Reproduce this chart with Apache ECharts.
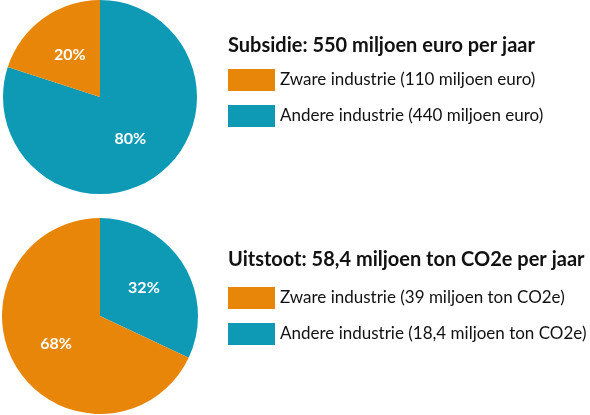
<!DOCTYPE html>
<html><head><meta charset="utf-8">
<script src="https://cdn.jsdelivr.net/npm/echarts@6/dist/echarts.min.js"></script>
<style>html,body{margin:0;padding:0;background:#fff}#c{width:590px;height:415px}</style>
</head><body><div id="c"></div>
<script>
const titles = ['Subsidie: 550 miljoen euro per jaar', 'Uitstoot: 58,4 miljoen ton CO2e per jaar'];
const subsidyNames = ['Andere industrie (440 miljoen euro)', 'Zware industrie (110 miljoen euro)'];
const subsidyValues = [80, 20];
const emissionNames = ['Andere industrie (18,4 miljoen ton CO2e)', 'Zware industrie (39 miljoen ton CO2e)'];
const emissionValues = [32, 68];
const colors = ['#0E9AB5', '#E8860A'];

const chart = echarts.init(document.getElementById('c'));
const font = 'Lato, "Open Sans", sans-serif';
function pie(names, values, center, radius) {
  return {
    type: 'pie', center: center, radius: radius, startAngle: 90, clockwise: true,
    silent: true,
    label: { position: 'inside', color: '#fff', fontSize: 16, fontWeight: 'bold', fontFamily: font,
             formatter: p => p.value + '%' },
    labelLine: { show: false },
    itemStyle: { borderWidth: 0 },
    data: names.map((n, i) => ({ name: n, value: values[i], itemStyle: { color: colors[i] } }))
  };
}
function legend(names, top) {
  return {
    left: 223, top: top, orient: 'vertical', itemWidth: 47, itemHeight: 22, itemGap: 14,
    icon: 'rect', selectedMode: false,
    textStyle: { fontSize: 17, color: '#111', fontFamily: font },
    data: [names[1], names[0]]
  };
}
chart.setOption({
  animation: false,
  title: [
    { text: titles[0], left: 223, top: 31, textStyle: { fontSize: 20, fontWeight: 'bold', color: '#111', fontFamily: font } },
    { text: titles[1], left: 223, top: 245, textStyle: { fontSize: 20, fontWeight: 'bold', color: '#111', fontFamily: font } }
  ],
  legend: [legend(subsidyNames, 64), legend(emissionNames, 282)],
  series: [
    pie(subsidyNames, subsidyValues, [100, 97], 97),
    pie(emissionNames, emissionValues, [100, 316], 98)
  ]
});
</script></body></html>
